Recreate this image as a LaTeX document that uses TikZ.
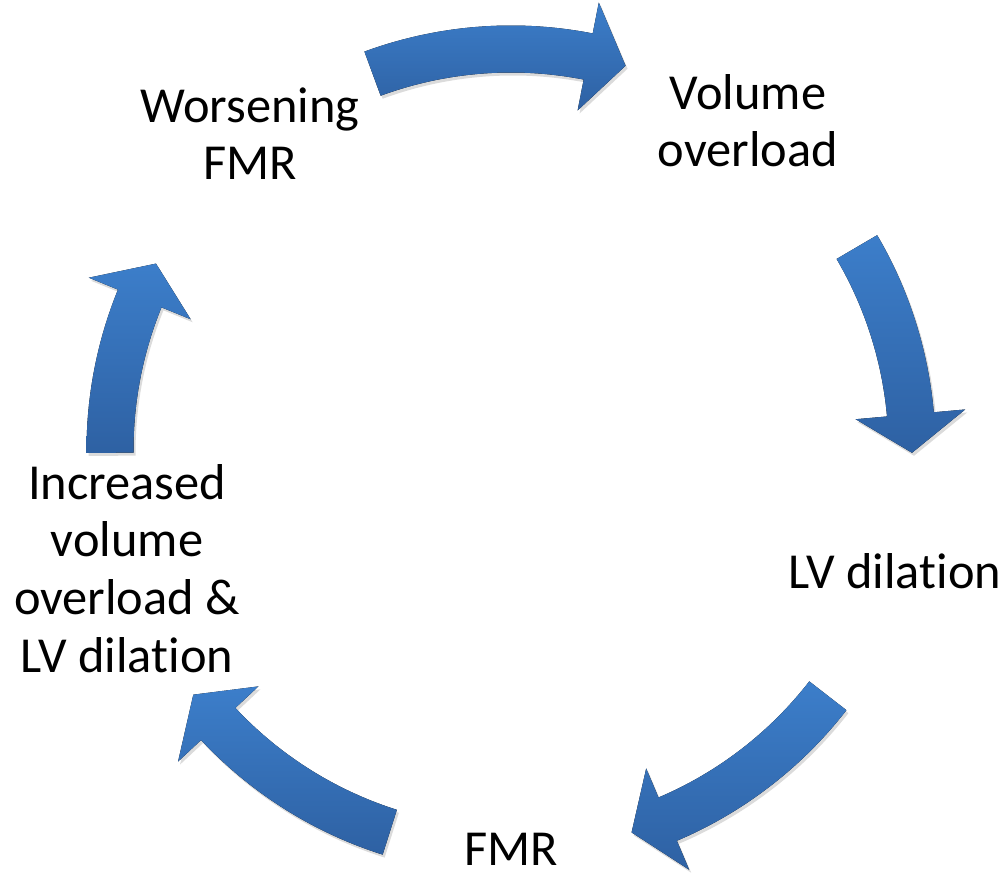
\documentclass[tikz,border=0pt]{standalone}
\usepackage{fontspec}
\setmainfont{Carlito}[Ligatures=NoCommon]
\definecolor{arrowtop}{RGB}{60,126,202}
\definecolor{arrowbottom}{RGB}{46,97,163}
\begin{document}
\begin{tikzpicture}[
	x=0.5pt,y=0.5pt,
	line join=miter,
	steplabel/.style={align=center,inner sep=0pt,anchor=base,font=\fontsize{25.2}{28.8}\selectfont},
	cyclearrow/.style={top color=arrowtop,bottom color=arrowbottom,
		preaction={fill=black,opacity=0.14,transform canvas={shift={(2,-3)}}}}
	]
	\useasboundingbox (0,0) rectangle (1004,872);
	\node[steplabel] (worse) at (250,692) {Worsening\\FMR};
	\node[steplabel] (volume) at (748,705) {Volume\\overload};
	\node[steplabel] (lvdil) at (895,284) {LV dilation};
	\node[steplabel] (fmr) at (511,7) {FMR};
	\node[steplabel] (incr) at (127,200) {Increased\\volume\\overload \&\\LV dilation};
	\begin{scope}[shift={(511,422)}]
		\foreach \a/\b in {110.2/73.4,30.4/-0.4,-37.8/-72.5,-107.6/-142.4,180.4/152.3}{
			\pgfmathsetmacro\hb{\b+5.5}
			\fill[cyclearrow] (\a:424.5) arc[start angle=\a,end angle=\hb,radius=424.5]
				-- (\hb:456) -- (\b:401) -- (\hb:346) -- (\hb:377.5)
				arc[start angle=\hb,end angle=\a,radius=377.5] -- cycle;
		}
	\end{scope}
\end{tikzpicture}
\end{document}
